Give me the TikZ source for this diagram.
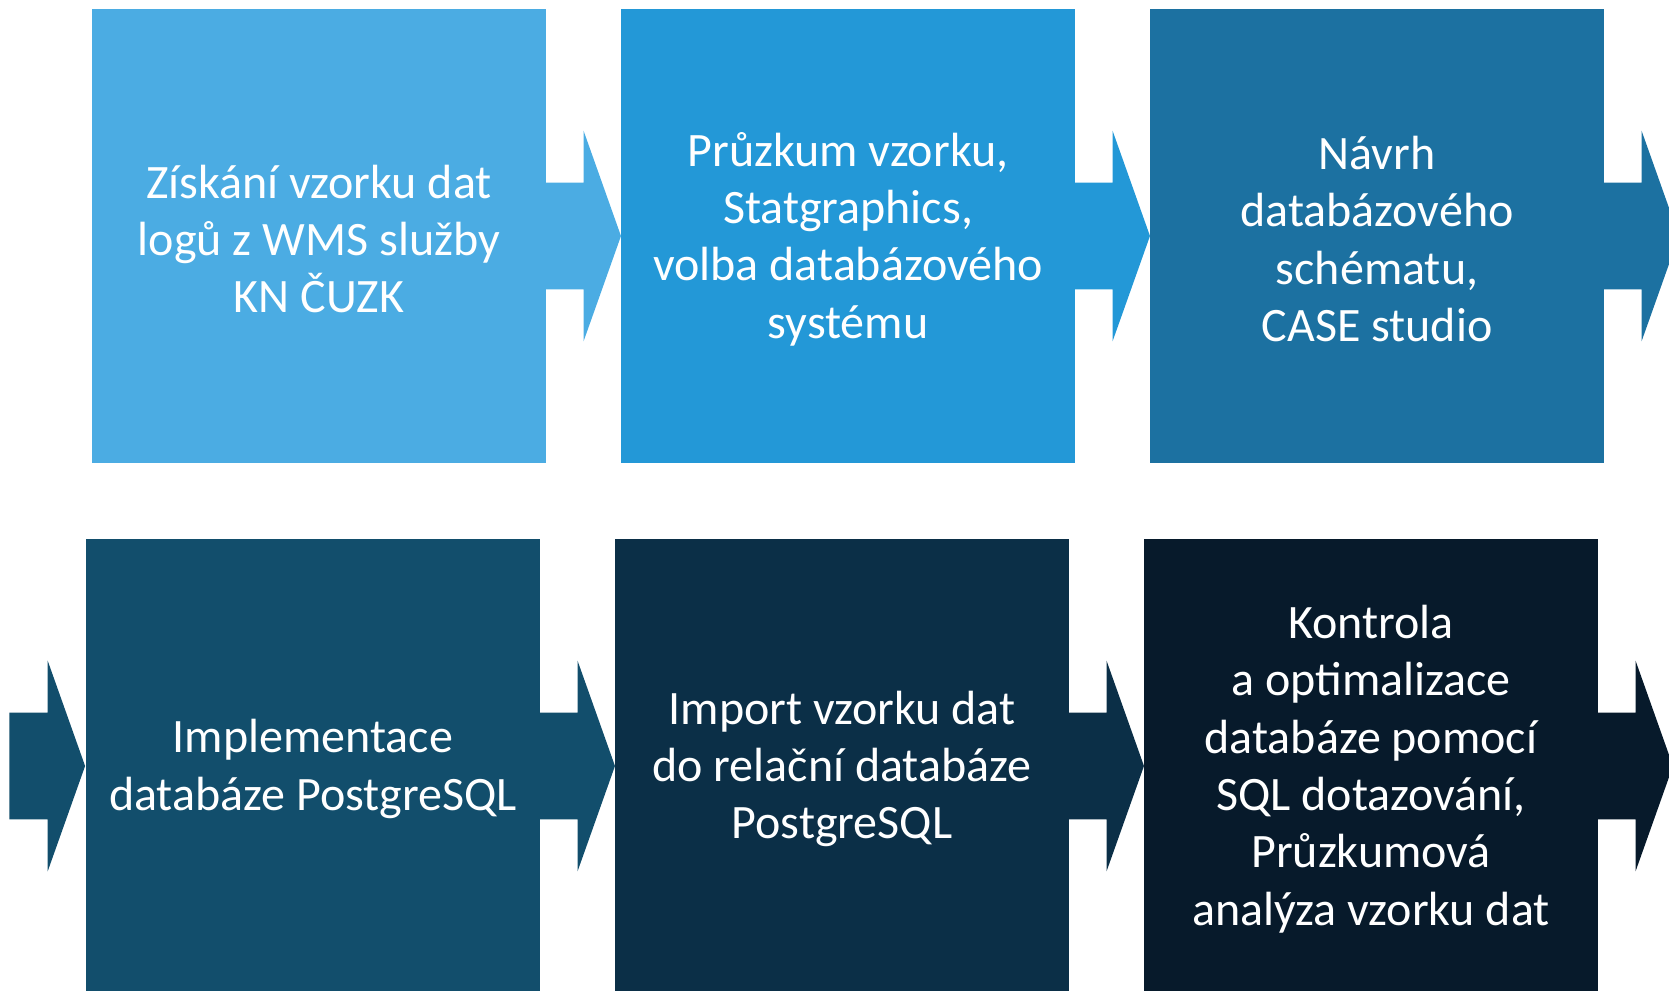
\documentclass[tikz,border=0pt]{standalone}
\usepackage{fontspec}
\setmainfont{Carlito}
\begin{document}
\begin{tikzpicture}[x=0.75pt,y=-0.75pt,
  stage/.style={fill=#1, draw=none, minimum width=340.5pt, minimum height=340.5pt, inner sep=0pt},
  stagetext/.style={text=white, inner sep=0pt, align=center, font=\fontsize{36}{43}\selectfont},
]
\definecolor{c1}{HTML}{4BACE3}
\definecolor{c2}{HTML}{2398D7}
\definecolor{c3}{HTML}{1C71A1}
\definecolor{c4}{HTML}{124E6C}
\definecolor{c5}{HTML}{0B2F47}
\definecolor{c6}{HTML}{071A2B}
\useasboundingbox (0,0) rectangle (1669,990);
\clip (0,0) rectangle (1669,990);

% process stages
\node[stage=c1] (b1) at (319,236) {};
\node[stage=c2] (b2) at (848,236) {};
\node[stage=c3] (b3) at (1377,236) {};
\node[stage=c4] (b4) at (313,766) {};
\node[stage=c5] (b5) at (842,766) {};
\node[stage=c6] (b6) at (1371,766) {};

% stage captions
\node[stagetext] (t1) at ([yshift=-2.2pt]b1.center) {Získání vzorku dat\\logů z WMS služby\\KN ČUZK};
\node[stagetext] (t2) at ([yshift=-2.2pt]b2.center) {Průzkum vzorku,\\Statgraphics,\\volba databázového\\systému};
\node[stagetext] (t3) at ([yshift=-2.2pt]b3.center) {Návrh\\databázového\\schématu,\\CASE studio};
\node[stagetext] (t4) at ([yshift=-2.2pt]b4.center) {Implementace\\databáze PostgreSQL};
\node[stagetext] (t5) at ([yshift=-2.2pt]b5.center) {Import vzorku dat\\do relační databáze\\PostgreSQL};
\node[stagetext] (t6) at ([yshift=-2.2pt]b6.center) {Kontrola\\a optimalizace\\databáze pomocí\\SQL dotazování,\\Průzkumová\\analýza vzorku dat};

% block arrows between the stages
\newcommand{\blockarrow}[2]{%
  \fill[#2] (#1) ++(-1,-53.3) -- ++(38.3,0) -- ++(0,-52) -- ++(37.4,105.3)
    -- ++(-37.4,105.3) -- ++(0,-52) -- ++(-38.3,0) -- cycle;}
\blockarrow{b1.east}{c1}
\blockarrow{b2.east}{c2}
\blockarrow{b3.east}{c3}
\coordinate (in4) at ([xshift=-56.5pt]b4.west);
\blockarrow{in4}{c4}
\blockarrow{b4.east}{c4}
\blockarrow{b5.east}{c5}
\blockarrow{b6.east}{c6}
\end{tikzpicture}
\end{document}
